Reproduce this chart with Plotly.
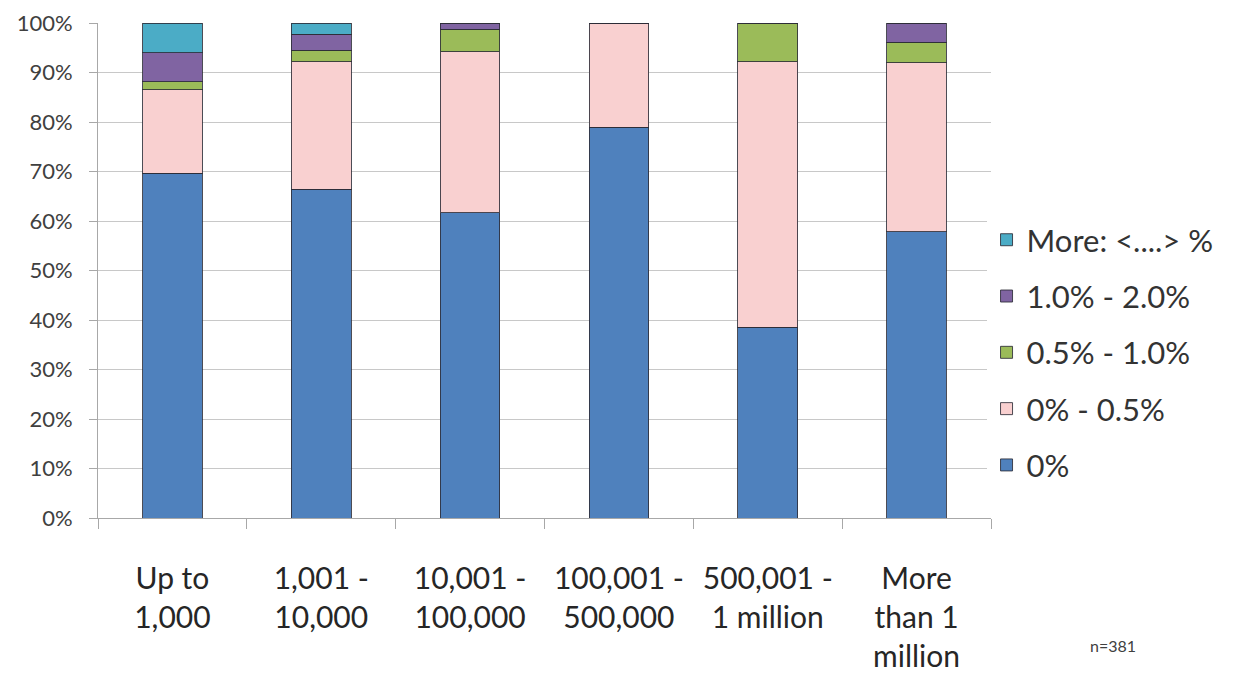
import plotly.graph_objects as go

categories = ["Up to<br>1,000", "1,001 -<br>10,000", "10,001 -<br>100,000",
              "100,001 -<br>500,000", "500,001 -<br>1 million", "More<br>than 1<br>million"]

share_0 = [69.6, 66.4, 61.7, 78.9, 38.5, 57.8]
share_0_05 = [16.9, 25.8, 32.5, 21.1, 53.7, 34.2]
share_05_1 = [1.6, 2.3, 4.5, 0.0, 7.8, 4.1]
share_1_2 = [5.9, 3.2, 1.3, 0.0, 0.0, 3.9]
share_more = [6.0, 2.3, 0.0, 0.0, 0.0, 0.0]

series_names = ["0%", "0% - 0.5%", "0.5% - 1.0%", "1.0% - 2.0%", "More: <....> %"]
series_values = [share_0, share_0_05, share_05_1, share_1_2, share_more]
series_colors = ["#4F81BD", "#F9D0D0", "#9BBB59", "#8064A2", "#4BACC6"]

fig = go.Figure()
n = len(series_names)
for i, (name, vals, col) in enumerate(zip(series_names, series_values, series_colors)):
    fig.add_trace(go.Bar(
        x=categories, y=[v / 100 for v in vals], name=name, legendgroup=name,
        legendrank=n - i,
        marker=dict(color=col, line=dict(color="rgba(45,45,55,0.85)", width=1)),
        width=0.4,
    ))

font_family = "Lato, 'Open Sans', sans-serif"
fig.update_layout(
    barmode="stack",
    width=1255, height=675,
    margin=dict(l=90, r=272, t=15, b=165, autoexpand=False),
    plot_bgcolor="white", paper_bgcolor="white",
    font=dict(family=font_family, color="#333333"),
    legend=dict(
        x=0.995, y=0.616, xanchor="left", yanchor="top",
        traceorder="grouped", tracegroupgap=13,
        font=dict(size=31, color="#333333"),
        itemwidth=30,
    ),
    showlegend=True,
)
fig.update_yaxes(
    range=[0, 1], dtick=0.1, tickformat=".0%",
    showgrid=True, gridcolor="#C8C8C8", gridwidth=1,
    showline=True, linecolor="#A8A8A8", linewidth=1,
    ticks="outside", ticklen=8, tickcolor="#A8A8A8",
    tickfont=dict(size=22, color="#404040"),
    ticklabelstandoff=12,
    zeroline=False,
)
fig.update_xaxes(
    showline=True, linecolor="#A8A8A8", linewidth=1,
    ticks="outside", ticklen=10, tickcolor="#A8A8A8", tickson="boundaries",
    tickfont=dict(size=30, color="#262626"),
    ticklabelstandoff=34,
)
fig.add_annotation(
    text="n=381", xref="paper", yref="paper", x=1.109, y=-0.257,
    xanchor="left", yanchor="middle", showarrow=False,
    font=dict(size=16, color="#404040"),
)
fig.write_html("out.html")
